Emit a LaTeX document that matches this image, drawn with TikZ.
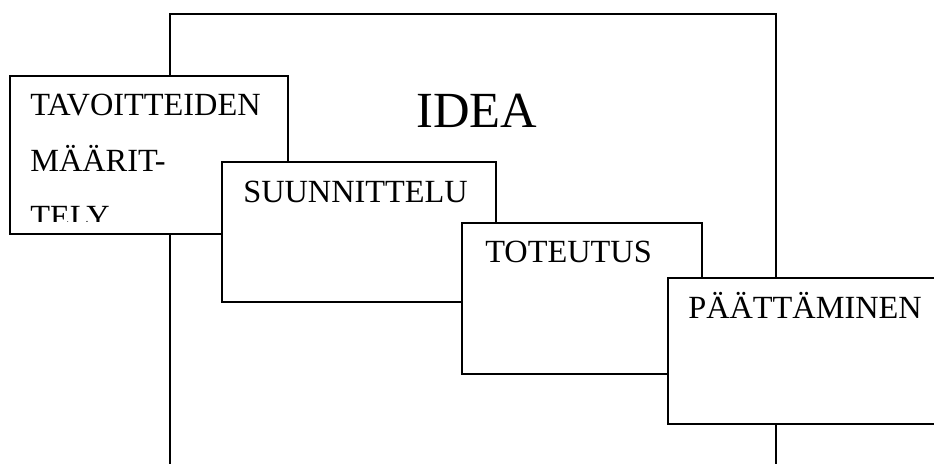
\documentclass[tikz,border=0pt]{standalone}
\usepackage{fontspec}
\setmainfont{Liberation Serif}
\begin{document}
\begin{tikzpicture}[x=0.025cm, y=-0.025cm,
    laatikko/.style = {draw, fill=white, line width=0.8pt},
    vaihe/.style = {anchor=base west, inner sep=0pt, font=\fontsize{23}{27}\selectfont}]
        \clip (0, 0) rectangle (934, 464);
        \draw [line width=0.8pt] (170, 480) -- (170, 14) -- (776, 14) -- (776, 480);
        \node [anchor=base, inner sep=0pt, font=\fontsize{36}{42}\selectfont] (idea) at (477, 128) {IDEA};
        \filldraw [laatikko] (10, 76) rectangle (288, 234);
        \begin{scope}
            \clip (10, 76) rectangle (288, 222);
            \node [vaihe] (tav1) at (30, 116) {TAVOITTEIDEN};
            \node [vaihe] (tav2) at (30, 172) {MÄÄRIT-};
            \node [vaihe] (tav3) at (30, 228) {TELY};
        \end{scope}
        \filldraw [laatikko] (222, 162) rectangle (496, 302);
        \node [vaihe] (suun) at (243, 203) {SUUNNITTELU};
        \filldraw [laatikko] (462, 223) rectangle (702, 374);
        \node [vaihe] (tot) at (485, 263) {TOTEUTUS};
        \filldraw [laatikko] (668, 278) rectangle (960, 424);
        \node [vaihe] (paat) at (688, 319) {PÄÄTTÄMINEN};
    \end{tikzpicture}
\end{document}
